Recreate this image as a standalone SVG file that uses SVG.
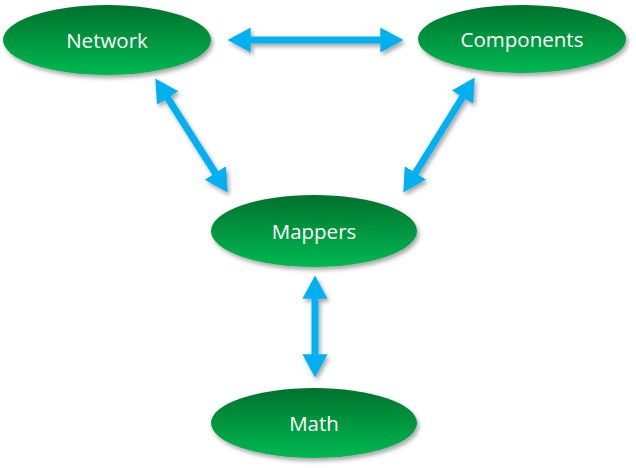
<svg xmlns="http://www.w3.org/2000/svg" width="636" height="468" viewBox="0 0 636 468">
  <style>
    .node { fill: url(#g); filter: url(#sh); }
    .lbl { font-family: "Open Sans", "Liberation Sans", sans-serif; font-size: 20.5px; fill: #ffffff; text-anchor: middle; dominant-baseline: central; }
    .conn { stroke: #00B0F0; stroke-width: 7; fill: none; marker-start: url(#ah); marker-end: url(#ah); }
  </style>
  <defs>
    <linearGradient id="g" x1="0" y1="0" x2="0" y2="1">
      <stop offset="0" stop-color="#00712D"/>
      <stop offset="0.5" stop-color="#00963F"/>
      <stop offset="1" stop-color="#00B851"/>
    </linearGradient>
    <filter id="sh" x="-20%" y="-20%" width="140%" height="150%">
      <feDropShadow dx="2" dy="3" stdDeviation="2" flood-color="#000" flood-opacity="0.35"/>
    </filter>
    <marker id="ah" viewBox="0 -2 3.4 4" refX="0.1" refY="0" markerWidth="3.4" markerHeight="4" markerUnits="strokeWidth" orient="auto-start-reverse">
      <path d="M0,-1.8 L3.3,0 L0,1.8 z" fill="#00B0F0"/>
    </marker>
  </defs>
  <g id="connectors" filter="url(#sh)">
    <line class="conn" x1="250" y1="40" x2="381" y2="40"/>
    <line class="conn" x1="167.3" y1="97.4" x2="215.7" y2="173.6"/>
    <line class="conn" x1="462.9" y1="96.5" x2="415.1" y2="173.5"/>
    <line class="conn" x1="315" y1="298" x2="315" y2="355"/>
  </g>
  <g id="network">
    <ellipse class="node" cx="107" cy="40" rx="104" ry="35"/>
    <text class="lbl" x="107" y="40">Network</text>
  </g>
  <g id="components">
    <ellipse class="node" cx="522" cy="39" rx="104" ry="34"/>
    <text class="lbl" x="522" y="39">Components</text>
  </g>
  <g id="mappers">
    <ellipse class="node" cx="314" cy="231" rx="103" ry="36"/>
    <text class="lbl" x="314" y="231">Mappers</text>
  </g>
  <g id="math">
    <ellipse class="node" cx="314" cy="423" rx="103" ry="35"/>
    <text class="lbl" x="314" y="423">Math</text>
  </g>
</svg>
